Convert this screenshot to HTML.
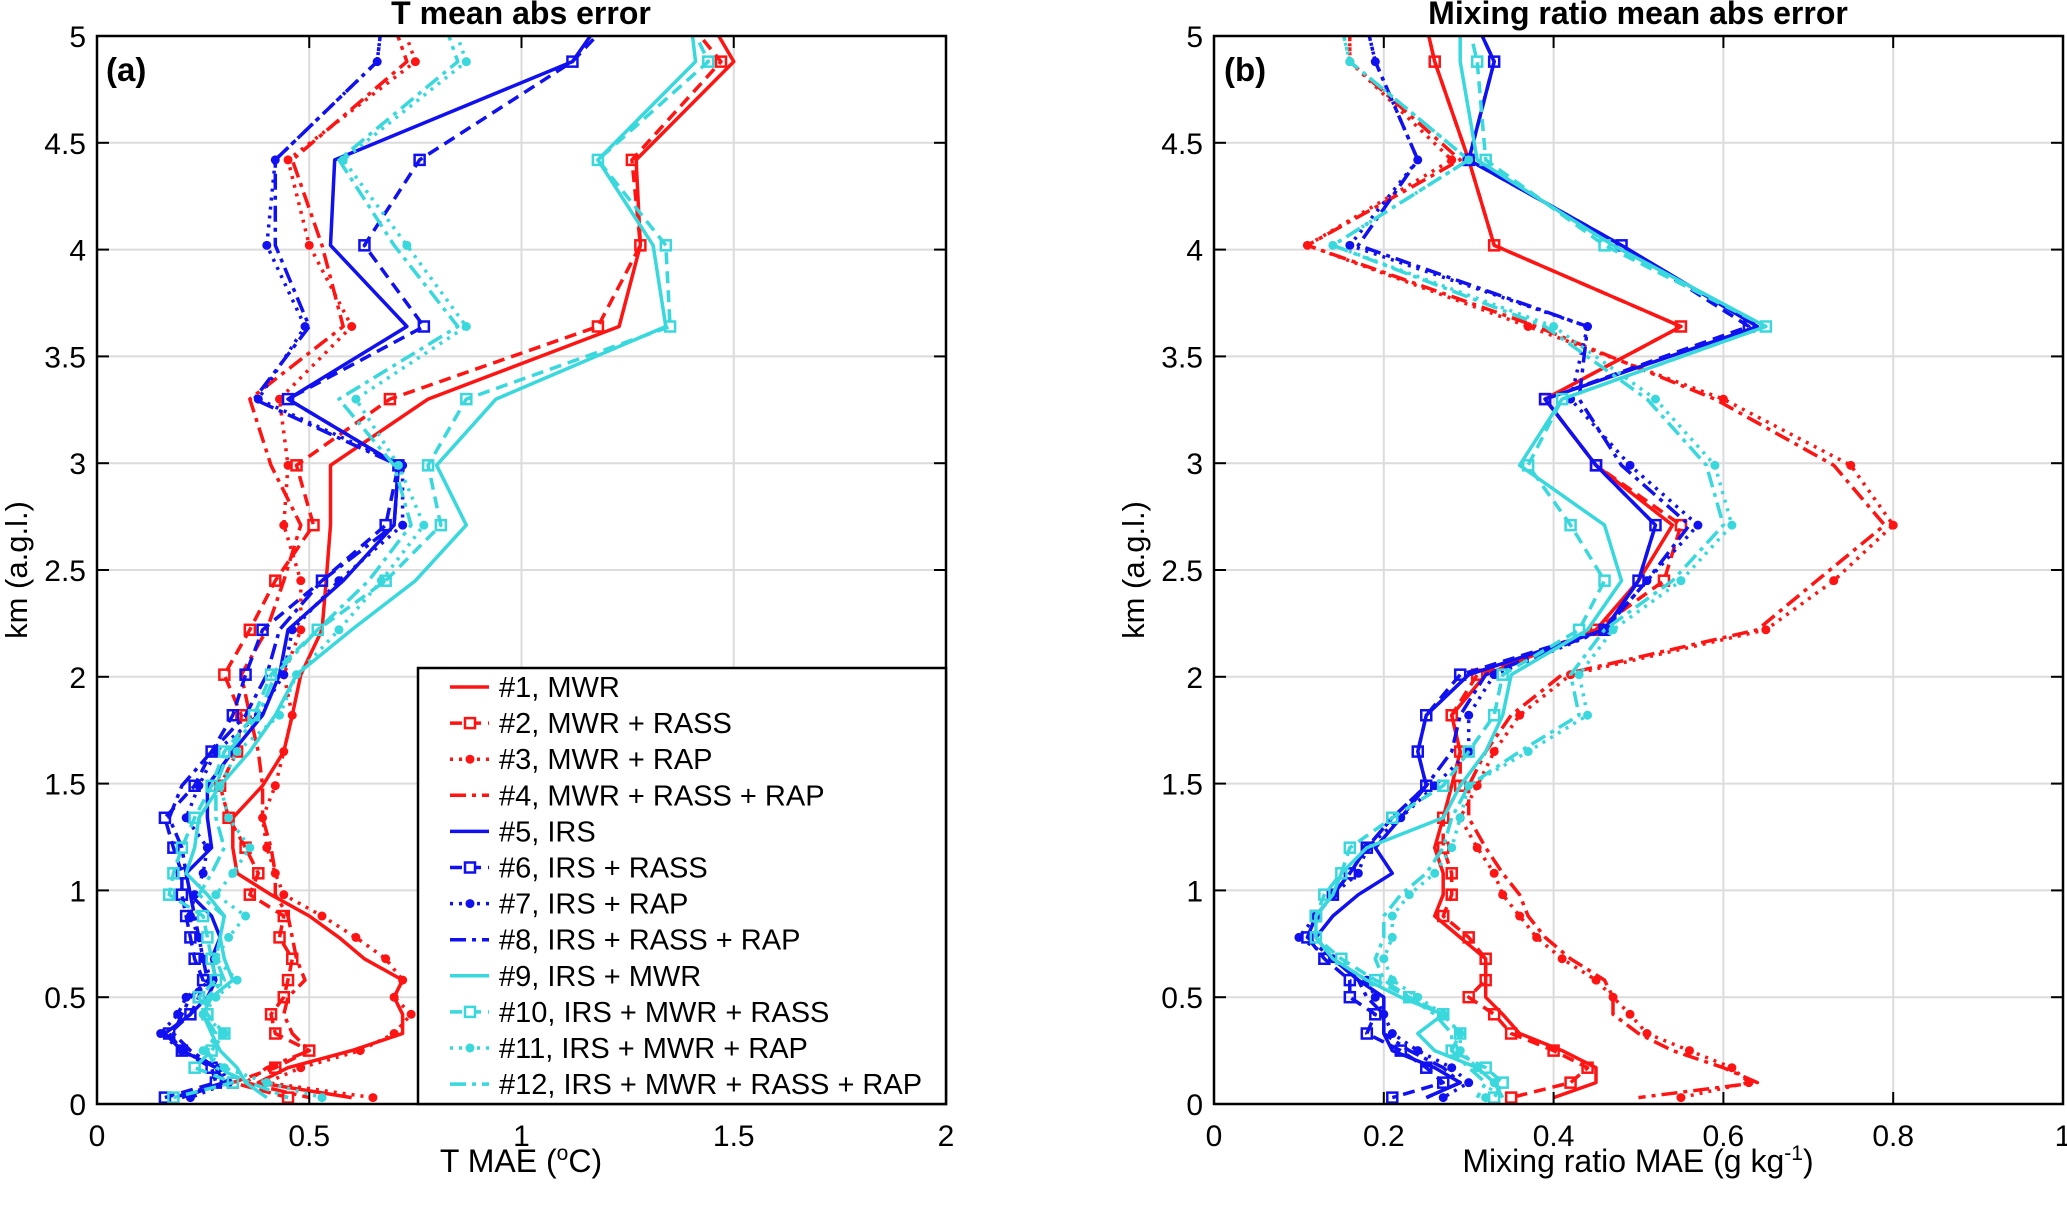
<!DOCTYPE html>
<html><head><meta charset="utf-8"><style>
html,body{margin:0;padding:0;background:#fff}
svg{display:block;font-family:"Liberation Sans",Arial,sans-serif}
</style></head><body>
<svg id="chart" width="2067" height="1207" viewBox="0 0 2067 1207" xmlns="http://www.w3.org/2000/svg"></svg>
<script>
const heights=[5.05,4.88,4.42,4.02,3.64,3.30,2.99,2.71,2.45,2.22,2.01,1.82,1.65,1.49,1.34,1.2,1.08,0.98,0.88,0.78,0.68,0.58,0.5,0.42,0.33,0.25,0.17,0.1,0.03];
const seriesLabels=["#1, MWR","#2, MWR + RASS","#3, MWR + RAP","#4, MWR + RASS + RAP","#5, IRS","#6, IRS + RASS","#7, IRS + RAP","#8, IRS + RASS + RAP","#9, IRS + MWR","#10, IRS + MWR + RASS","#11, IRS + MWR + RAP","#12, IRS + MWR + RASS + RAP"];
const tA1=[1.45,1.5,1.27,1.28,1.23,0.78,0.55,0.55,0.54,0.53,0.48,0.46,0.44,0.39,0.32,0.32,0.33,0.41,0.50,0.57,0.63,0.72,0.70,0.72,0.72,0.6,0.45,0.38,0.6];
const tA2=[1.40,1.47,1.26,1.28,1.18,0.69,0.47,0.51,0.42,0.36,0.30,0.34,0.33,0.29,0.31,0.35,0.38,0.36,0.44,0.43,0.46,0.45,0.44,0.41,0.42,0.50,0.42,0.32,0.45];
const tA3=[0.72,0.75,0.45,0.50,0.60,0.43,0.45,0.44,0.48,0.48,0.44,0.46,0.44,0.42,0.39,0.40,0.42,0.44,0.53,0.61,0.68,0.72,0.70,0.74,0.70,0.62,0.48,0.40,0.65];
const tA4=[0.70,0.73,0.46,0.53,0.58,0.36,0.41,0.48,0.44,0.40,0.34,0.36,0.38,0.39,0.39,0.41,0.42,0.42,0.45,0.46,0.47,0.49,0.45,0.44,0.46,0.5,0.4,0.35,0.5];
const tA5=[1.18,1.12,0.56,0.55,0.73,0.45,0.71,0.70,0.58,0.45,0.43,0.39,0.32,0.26,0.26,0.27,0.21,0.22,0.27,0.29,0.27,0.28,0.26,0.22,0.16,0.20,0.28,0.30,0.20];
const tA6=[1.20,1.12,0.76,0.63,0.77,0.45,0.71,0.68,0.53,0.39,0.35,0.32,0.27,0.23,0.16,0.18,0.20,0.20,0.21,0.22,0.23,0.25,0.24,0.22,0.17,0.20,0.27,0.28,0.16];
const tA7=[0.67,0.66,0.42,0.40,0.49,0.38,0.72,0.72,0.57,0.46,0.44,0.38,0.28,0.24,0.21,0.26,0.25,0.23,0.22,0.24,0.25,0.27,0.21,0.19,0.15,0.20,0.29,0.31,0.22];
const tA8=[0.67,0.66,0.42,0.42,0.50,0.37,0.71,0.70,0.53,0.43,0.40,0.35,0.27,0.20,0.17,0.20,0.21,0.22,0.23,0.24,0.25,0.26,0.22,0.20,0.18,0.22,0.28,0.30,0.18];
const tA9=[1.40,1.41,1.18,1.31,1.34,0.94,0.80,0.87,0.75,0.60,0.47,0.42,0.36,0.29,0.24,0.23,0.21,0.26,0.30,0.29,0.30,0.32,0.27,0.25,0.27,0.29,0.33,0.35,0.40];
const tA10=[1.40,1.44,1.18,1.34,1.35,0.87,0.78,0.81,0.68,0.52,0.41,0.37,0.30,0.27,0.23,0.20,0.18,0.17,0.25,0.26,0.27,0.28,0.24,0.26,0.30,0.27,0.23,0.32,0.18];
const tA11=[0.84,0.87,0.58,0.73,0.87,0.61,0.71,0.77,0.67,0.57,0.47,0.43,0.33,0.29,0.31,0.36,0.32,0.28,0.35,0.31,0.28,0.33,0.28,0.25,0.30,0.25,0.30,0.40,0.53];
const tA12=[0.82,0.85,0.57,0.70,0.85,0.57,0.70,0.74,0.64,0.52,0.42,0.38,0.31,0.28,0.28,0.30,0.27,0.24,0.30,0.29,0.28,0.30,0.26,0.25,0.28,0.26,0.28,0.36,0.45];
const qB1=[0.25,0.26,0.30,0.33,0.55,0.39,0.45,0.54,0.50,0.45,0.32,0.28,0.29,0.28,0.27,0.26,0.27,0.27,0.26,0.29,0.32,0.32,0.32,0.34,0.36,0.41,0.45,0.45,0.40];
const qB2=[0.25,0.26,0.30,0.33,0.55,0.39,0.45,0.55,0.53,0.45,0.31,0.28,0.29,0.29,0.27,0.27,0.28,0.28,0.27,0.30,0.32,0.32,0.30,0.33,0.35,0.40,0.44,0.42,0.35];
const qB3=[0.16,0.16,0.28,0.11,0.37,0.60,0.75,0.80,0.73,0.65,0.42,0.36,0.33,0.31,0.29,0.31,0.33,0.34,0.36,0.38,0.41,0.45,0.47,0.49,0.51,0.56,0.61,0.63,0.55];
const qB4=[0.16,0.16,0.29,0.11,0.38,0.59,0.73,0.79,0.71,0.64,0.41,0.35,0.32,0.30,0.30,0.32,0.34,0.36,0.37,0.39,0.42,0.46,0.47,0.47,0.50,0.54,0.60,0.64,0.50];
const qB5=[0.31,0.33,0.30,0.48,0.64,0.39,0.45,0.52,0.50,0.46,0.30,0.25,0.24,0.25,0.22,0.19,0.21,0.17,0.14,0.12,0.14,0.17,0.20,0.20,0.20,0.21,0.26,0.29,0.25];
const qB6=[0.31,0.33,0.30,0.48,0.63,0.39,0.45,0.52,0.50,0.46,0.29,0.25,0.24,0.25,0.21,0.18,0.16,0.14,0.12,0.11,0.13,0.16,0.16,0.19,0.18,0.22,0.25,0.27,0.21];
const qB7=[0.18,0.19,0.24,0.16,0.44,0.42,0.49,0.57,0.51,0.46,0.33,0.30,0.30,0.26,0.22,0.18,0.17,0.14,0.12,0.10,0.14,0.18,0.19,0.20,0.21,0.24,0.28,0.30,0.27];
const qB8=[0.18,0.19,0.24,0.17,0.44,0.43,0.48,0.56,0.51,0.46,0.32,0.29,0.28,0.25,0.21,0.18,0.16,0.14,0.12,0.11,0.14,0.17,0.18,0.20,0.20,0.23,0.27,0.29,0.25];
const qB9=[0.29,0.29,0.31,0.47,0.65,0.41,0.36,0.46,0.48,0.44,0.35,0.34,0.32,0.29,0.27,0.18,0.15,0.14,0.12,0.12,0.14,0.18,0.22,0.27,0.24,0.26,0.31,0.33,0.34];
const qB10=[0.30,0.31,0.32,0.46,0.65,0.41,0.37,0.42,0.46,0.43,0.34,0.33,0.30,0.27,0.21,0.16,0.15,0.13,0.12,0.12,0.15,0.19,0.23,0.27,0.29,0.28,0.32,0.34,0.33];
const qB11=[0.15,0.16,0.30,0.14,0.40,0.52,0.59,0.61,0.55,0.47,0.43,0.44,0.37,0.30,0.29,0.28,0.26,0.23,0.21,0.21,0.20,0.21,0.24,0.27,0.29,0.29,0.31,0.33,0.32];
const qB12=[0.15,0.16,0.30,0.14,0.39,0.51,0.58,0.60,0.54,0.46,0.42,0.43,0.36,0.30,0.28,0.27,0.25,0.22,0.20,0.20,0.19,0.20,0.23,0.26,0.28,0.28,0.30,0.32,0.31];
const yTicks=[0,0.5,1,1.5,2,2.5,3,3.5,4,4.5,5];
const yTickLabels=["0","0.5","1","1.5","2","2.5","3","3.5","4","4.5","5"];
const xTicksA=[0,0.5,1,1.5,2];
const xTickLabelsA=["0","0.5","1","1.5","2"];
const xTicksB=[0,0.2,0.4,0.6,0.8,1];
const xTickLabelsB=["0","0.2","0.4","0.6","0.8","1"];

const NS="http://www.w3.org/2000/svg";
const svg=document.getElementById('chart');
function mk(tag,attrs,parent){const e=document.createElementNS(NS,tag);for(const k in attrs)e.setAttribute(k,attrs[k]);(parent||svg).appendChild(e);return e;}
const RED="#ff1414",BLUE="#1010f0",CYAN="#38d8dc";
const colors=[RED,RED,RED,RED,BLUE,BLUE,BLUE,BLUE,CYAN,CYAN,CYAN,CYAN];
const dashes=["none","12,7","3,6","16,6,4,6"];
const markers=["none","square","dot","none"];

function panel(o){
  const g=mk('g',{});
  
  
  const xs=v=>o.x0+(v-o.xmin)/(o.xmax-o.xmin)*(o.x1-o.x0);
  const ys=v=>o.y0-(v/5)*(o.y0-o.y1);
  o.xt.forEach(t=>{const l=mk('line',{x1:xs(t),x2:xs(t),y1:o.y1,y2:o.y0,stroke:'#dcdcdc','stroke-width':2},g);
    });
  yTicks.forEach(t=>{const l=mk('line',{x1:o.x0,x2:o.x1,y1:ys(t),y2:ys(t),stroke:'#dcdcdc','stroke-width':2},g);
    });
  const cid='clip'+o.name;
  const cp=mk('clipPath',{id:cid},g);mk('rect',{x:o.x0,y:o.y1,width:o.x1-o.x0,height:o.y0-o.y1},cp);
  const sg=mk('g',{'clip-path':'url(#'+cid+')'},g);
  o.series.forEach((vals,i)=>{
    const pts=vals.map((v,j)=>xs(v).toFixed(1)+','+ys(heights[j]).toFixed(1)).join(' ');
    const pl=mk('polyline',{points:pts,fill:'none',stroke:colors[i],'stroke-width':3.5,'stroke-linejoin':'round','stroke-dasharray':dashes[i%4]},sg);
    
    
    const m=markers[i%4];
    if(m!=='none'){
      vals.forEach((v,j)=>{
        let e;
        if(m==='square') e=mk('rect',{x:xs(v)-5,y:ys(heights[j])-5,width:10,height:10,fill:'none',stroke:colors[i],'stroke-width':2.5},sg);
        else e=mk('circle',{cx:xs(v),cy:ys(heights[j]),r:4.5,fill:colors[i]},sg);
        
        
      });
    }
  });
  o.xt.forEach((t,k)=>{
    mk('line',{x1:xs(t),x2:xs(t),y1:o.y0,y2:o.y0-12,stroke:'#000','stroke-width':2},g);
    mk('line',{x1:xs(t),x2:xs(t),y1:o.y1,y2:o.y1+12,stroke:'#000','stroke-width':2},g);
    const tx=mk('text',{x:xs(t),y:o.y0+42,'font-size':30,'text-anchor':'middle'},g);
    tx.textContent=o.xl[k];
    
    
  });
  yTicks.forEach((t,k)=>{
    mk('line',{x1:o.x0,x2:o.x0+12,y1:ys(t),y2:ys(t),stroke:'#000','stroke-width':2},g);
    mk('line',{x1:o.x1,x2:o.x1-12,y1:ys(t),y2:ys(t),stroke:'#000','stroke-width':2},g);
    const tx=mk('text',{x:o.x0-11,y:ys(t)+11,'font-size':30,'text-anchor':'end'},g);
    tx.textContent=yTickLabels[k];
    
    
  });
  const fr=mk('rect',{x:o.x0,y:o.y1,width:o.x1-o.x0,height:o.y0-o.y1,fill:'none',stroke:'#000','stroke-width':2.5},g);
  
  return {xs,ys,g};
}

const A=panel({name:'panel-a',x0:97,x1:946,y0:1104,y1:36,xmin:0,xmax:2,xt:xTicksA,xl:xTickLabelsA,
  series:[tA1,tA2,tA3,tA4,tA5,tA6,tA7,tA8,tA9,tA10,tA11,tA12]});
const B=panel({name:'panel-b',x0:1214,x1:2063,y0:1104,y1:36,xmin:0,xmax:1,xt:xTicksB,xl:xTickLabelsB,
  series:[qB1,qB2,qB3,qB4,qB5,qB6,qB7,qB8,qB9,qB10,qB11,qB12]});
</script>
<script>
(function(){
const svg=document.getElementById('chart');
const NS="http://www.w3.org/2000/svg";
function t(x,y,txt,attrs,name){const e=document.createElementNS(NS,'text');e.setAttribute('x',x);e.setAttribute('y',y);for(const k in attrs)e.setAttribute(k,attrs[k]);e.textContent=txt;


svg.appendChild(e);return e;}
t(521,24,'T mean abs error',{'font-size':32,'font-weight':'bold','text-anchor':'middle'},'title-a');
t(1638,24,'Mixing ratio mean abs error',{'font-size':32,'font-weight':'bold','text-anchor':'middle'},'title-b');
t(106,81,'(a)',{'font-size':33,'font-weight':'bold'},'panel-a-label');
t(1224,81,'(b)',{'font-size':33,'font-weight':'bold'},'panel-b-label');
const xa=t(521,1172,'',{'font-size':32,'text-anchor':'middle'},'x-axis-title-a');
xa.innerHTML='T MAE (<tspan dy="-12" font-size="21">o</tspan><tspan dy="12">C)</tspan>';
const xb=t(1638,1172,'',{'font-size':32,'text-anchor':'middle'},'x-axis-title-b');
xb.innerHTML='Mixing ratio MAE (g kg<tspan dy="-12" font-size="21">-1</tspan><tspan dy="12">)</tspan>';
t(0,0,'km (a.g.l.)',{'font-size':31,'text-anchor':'middle',transform:'translate(27,570) rotate(-90)'},'y-axis-title-a');
t(0,0,'km (a.g.l.)',{'font-size':31,'text-anchor':'middle',transform:'translate(1144,570) rotate(-90)'},'y-axis-title-b');
const lg=document.createElementNS(NS,'g');


svg.appendChild(lg);
const box=document.createElementNS(NS,'rect');
box.setAttribute('x',418);box.setAttribute('y',668);box.setAttribute('width',528);box.setAttribute('height',436);
box.setAttribute('fill','#fff');box.setAttribute('stroke','#000');box.setAttribute('stroke-width',2.5);
lg.appendChild(box);
const cols=["#ff1414","#1010f0","#38d8dc"];
const dashes=["none","12,7","3,6","16,6,4,6"];
seriesLabels.forEach((lab,i)=>{
  const y=687+i*36.1;
  const c=cols[Math.floor(i/4)];
  const l=document.createElementNS(NS,'line');
  l.setAttribute('x1',450);l.setAttribute('x2',489);l.setAttribute('y1',y);l.setAttribute('y2',y);
  l.setAttribute('stroke',c);l.setAttribute('stroke-width',3.5);l.setAttribute('stroke-dasharray',dashes[i%4]);
  
  
  lg.appendChild(l);
  if(i%4===1){const r=document.createElementNS(NS,'rect');r.setAttribute('x',465);r.setAttribute('y',y-5);r.setAttribute('width',10);r.setAttribute('height',10);r.setAttribute('fill','#fff');r.setAttribute('stroke',c);r.setAttribute('stroke-width',2.5);lg.appendChild(r);}
  if(i%4===2){const r=document.createElementNS(NS,'circle');r.setAttribute('cx',470);r.setAttribute('cy',y);r.setAttribute('r',4.5);r.setAttribute('fill',c);lg.appendChild(r);}
  const tx=document.createElementNS(NS,'text');
  tx.setAttribute('x',499);tx.setAttribute('y',y+10);tx.setAttribute('font-size',29);
  tx.textContent=lab;
  
  
  lg.appendChild(tx);
});
})();
</script>
</body></html>
